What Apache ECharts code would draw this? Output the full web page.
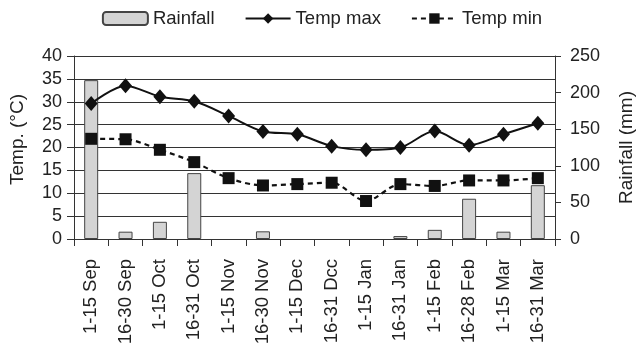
<!DOCTYPE html>
<html><head><meta charset="utf-8">
<script src="https://cdn.jsdelivr.net/npm/echarts@6/dist/echarts.min.js"></script>
<style>html,body{margin:0;padding:0;background:#fff}#c{width:644px;height:350px}</style>
</head><body><div id="c"></div>
<script>
var categories = ['1-15 Sep','16-30 Sep','1-15 Oct','16-31 Oct','1-15 Nov','16-30 Nov','1-15 Dec','16-31 Dcc','1-15 Jan','16-31 Jan','1-15 Feb','16-28 Feb','1-15 Mar','16-31 Mar'];
var rainfall = [217, 10, 23.5, 90, 0, 10.5, 0, 0, 0, 4, 12.5, 55, 10, 73.5];
var tempMax = [29.6, 33.5, 31.1, 30.1, 26.9, 23.5, 22.9, 20.3, 19.5, 20.0, 23.6, 20.5, 22.9, 25.3];
var tempMin = [21.9, 21.8, 19.5, 16.8, 13.3, 11.7, 12.0, 12.3, 8.3, 12.0, 11.6, 12.8, 12.8, 13.3];

var FONT = '"Liberation Sans", Arial, sans-serif';
var TXT = '#222';
var chart = echarts.init(document.getElementById('c'));
chart.setOption({
  animation: false,
  textStyle: {fontFamily: FONT, color: TXT},
  legend: {
    top: 4, left: 'center', itemGap: 30,
    itemWidth: 45, itemHeight: 13,
    textStyle: {fontFamily: FONT, fontSize: 18.5, color: TXT},
    data: ['Rainfall', 'Temp max', 'Temp min']
  },
  grid: {left: 73, right: 79, top: 56, bottom: 111, containLabel: false},
  xAxis: {
    type: 'category', data: categories, boundaryGap: true,
    axisLine: {lineStyle: {color: '#333', width: 1}},
    axisTick: {show: true, alignWithLabel: false, length: 7, lineStyle: {color: '#333'}},
    axisLabel: {rotate: 90, fontSize: 18.5, color: TXT, fontFamily: FONT, margin: 20, interval: 0}
  },
  yAxis: [{
    type: 'value', min: 0, max: 40, interval: 5,
    name: 'Temp. (°C)', nameLocation: 'middle', nameGap: 47, nameRotate: 90,
    nameTextStyle: {fontSize: 19, color: TXT, fontFamily: FONT, padding: [0, 0, 0, 16]},
    axisLine: {show: true, lineStyle: {color: '#333'}},
    axisTick: {show: true, length: 7, lineStyle: {color: '#333'}},
    axisLabel: {fontSize: 18, color: TXT, fontFamily: FONT, margin: 12},
    splitLine: {show: true, lineStyle: {color: '#333', width: 1}}
  }, {
    type: 'value', min: 0, max: 250, interval: 50, position: 'right',
    name: 'Rainfall (mm)', nameLocation: 'middle', nameGap: 62, nameRotate: 90,
    nameTextStyle: {fontSize: 19, color: TXT, fontFamily: FONT},
    axisLine: {show: true, lineStyle: {color: '#333'}},
    axisTick: {show: true, length: 6, lineStyle: {color: '#333'}},
    axisLabel: {fontSize: 18, color: TXT, fontFamily: FONT, margin: 15},
    splitLine: {show: false}
  }],
  series: [{
    name: 'Rainfall', type: 'bar', yAxisIndex: 1,
    data: rainfall.map(function (v) { return v === 0 ? '-' : v; }),
    barWidth: 14,
    itemStyle: {color: '#d4d4d4', borderColor: '#444', borderWidth: 1}
  }, {
    name: 'Temp max', type: 'line', yAxisIndex: 0, data: tempMax,
    smooth: 0.3, symbol: 'diamond', symbolSize: [13, 15],
    lineStyle: {color: '#111', width: 2},
    itemStyle: {color: '#111'}
  }, {
    name: 'Temp min', type: 'line', yAxisIndex: 0, data: tempMin,
    smooth: 0.3, symbol: 'rect', symbolSize: 12,
    lineStyle: {color: '#111', width: 2.2, type: [5, 4]},
    itemStyle: {color: '#111'}
  }]
});
</script></body></html>
